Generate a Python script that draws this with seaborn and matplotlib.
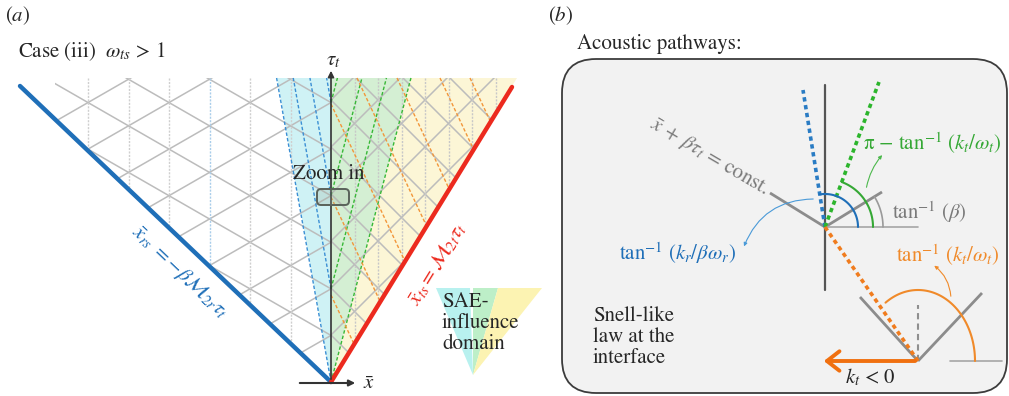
import numpy as np
import pandas as pd
import matplotlib
matplotlib.use("Agg")
import matplotlib.pyplot as plt
import seaborn as sns
from matplotlib.patches import Polygon, FancyBboxPatch, FancyArrowPatch

# ---------------- data: schematic geometry (canvas units) ----------------
apex = (331, 382)                 # origin of the (x, tau) diagram
top_y = 78                        # top edge of the drawn domain
grid_left_x = 55
rs_end = (20, 86)                 # end of reflected-shock line
ts_end = (512, 87)                # end of transmitted-shock line
tau_tip_y = 68
xaxis_span = (297, 358)

left_period, left_slope = 81, 0.575      # lattice in region r  (30 deg)
right_period, right_slope = 47, 1.0      # lattice in region t  (45 deg)
left_vline_k = [1, 2, 3, 4, 5, 6]
right_vline_k = [1, 2, 3, 4, 5, 6, 7]
blue_vline_k = 3

fan_top_x = [277, 331, 411, 517]         # cyan | green | yellow boundaries at top
node_y = [382, 288.8, 195.6, 102.4]      # nodes on tau axis emitting rays
blue_ray_dxdy = 0.179
green_ray_dxdy = 0.263
orange_dxdy = 0.47
orange_axis_y = [295, 197, 104]
orange_top_x = [357, 397, 440, 470]

legend_apex = (473, 375)
legend_top = [436, 470, 473, 498, 542]
legend_top_y = 288

# panel (b)
box_xy = (562, 59)
box_wh = (445, 334)
node1 = (825, 227)
node2 = (918, 361)
upper_vline = (85, 290)
v1_arm_ends = [(770, 193), (882, 192)]
v2_arm_ends = [(860, 297), (982, 293)]
blue_dot_end = (803, 90)
green_dot_end = (879, 82)
arc_r = {"blue": 33, "green": 48, "gray": 58}
orange_arc_ab = (57, 71)
kt_arrow_end = 821

# colours
C_BLUE = "#1f6fb8"
C_RED = "#ec2a1e"
C_GREEN = "#35a835"
C_ORANGE = "#f08a2a"
C_GRAY = "#8c8c8c"
C_GRID = "#bcbcbc"
F_CYAN = "#cff2f5"
F_GREEN = "#d4efd3"
F_YELLOW = "#fcf6d6"

sns.set_theme(style="white")
plt.rcParams["font.family"] = ["STIXGeneral", "Liberation Serif", "DejaVu Serif"]
plt.rcParams["mathtext.fontset"] = "stix"

fig = plt.figure(figsize=(10.09, 3.96), dpi=100)
ax = fig.add_axes([0, 0, 1, 1])
ax.set_xlim(0, 1009)
ax.set_ylim(396, 0)
ax.axis("off")

ax0x, ax0y = apex
k_rs = (ax0x - rs_end[0]) / (ax0y - rs_end[1])
k_ts = (ts_end[0] - ax0x) / (ax0y - ts_end[1])
x_ts_top = ax0x + k_ts * (ax0y - top_y)

# ---------------- fills ----------------
fills = [F_CYAN, F_GREEN, F_YELLOW]
for i, col in enumerate(fills):
    ax.add_patch(Polygon([apex, (fan_top_x[i], top_y), (fan_top_x[i + 1], top_y)],
                         closed=True, fc=col, ec="none", zorder=1))

# clip regions
y_left_clip = ax0y - (ax0x - grid_left_x) / k_rs
left_clip = Polygon([(grid_left_x, top_y), (ax0x, top_y), apex, (grid_left_x, y_left_clip)],
                    closed=True, fc="none", ec="none", transform=ax.transData)
right_clip = Polygon([(ax0x, top_y), (x_ts_top, top_y), apex],
                     closed=True, fc="none", ec="none", transform=ax.transData)
ax.add_patch(left_clip)
ax.add_patch(right_clip)

xs = np.array([-50, 600])
for n in range(-12, 8):
    c = ax0x + left_period * n
    for s in (1, -1):
        ln, = ax.plot(xs, ax0y + s * left_slope * (xs - c), color=C_GRID, lw=1.1, zorder=2)
        ln.set_clip_path(left_clip)
for n in range(-10, 10):
    c = ax0x + right_period * n
    for s in (1, -1):
        ln, = ax.plot(xs, ax0y + s * right_slope * (xs - c), color=C_GRID, lw=1.1, zorder=2)
        ln.set_clip_path(right_clip)

for k in left_vline_k:
    x = ax0x - k * left_period / 2
    col = "#a9cdea" if k == blue_vline_k else "#cfcfcf"
    ln, = ax.plot([x, x], [top_y, ax0y], color=col, lw=1.0, ls=(0, (1.5, 1)), zorder=2)
    ln.set_clip_path(left_clip)
for k in right_vline_k:
    x = ax0x + k * right_period / 2
    ln, = ax.plot([x, x], [top_y, ax0y], color="#c8c8c8", lw=1.0, ls=(0, (1.5, 1)), zorder=2)
    ln.set_clip_path(right_clip)

# ---------------- dashed rays ----------------
dash = (0, (2.5, 1.5))
for y0 in node_y:
    ax.plot([ax0x, ax0x - blue_ray_dxdy * (y0 - top_y)], [y0, top_y],
            color="#3b8fd4", lw=1.0, ls=dash, zorder=3)
    ax.plot([ax0x, ax0x + green_ray_dxdy * (y0 - top_y)], [y0, top_y],
            color="#37b837", lw=1.0, ls=dash, zorder=3)

orange_starts = [(ax0x, y) for y in orange_axis_y] + [(x, top_y) for x in orange_top_x]
for x0, y0 in orange_starts:
    y_end = (ax0x + k_ts * ax0y - x0 + orange_dxdy * y0) / (orange_dxdy + k_ts)
    x_end = x0 + orange_dxdy * (y_end - y0)
    ax.plot([x0, x_end], [y0, y_end], color="#f2963a", lw=1.0, ls=dash, zorder=3)

# ---------------- boundary lines (seaborn) ----------------
df_bound = pd.DataFrame({
    "x": [ax0x, rs_end[0], ax0x, ts_end[0]],
    "y": [ax0y, rs_end[1], ax0y, ts_end[1]],
    "edge": ["rs", "rs", "ts", "ts"],
})
sns.lineplot(data=df_bound, x="x", y="y", hue="edge", units="edge", estimator=None,
             sort=False, palette={"rs": C_BLUE, "ts": C_RED}, linewidth=3.2,
             legend=False, ax=ax, zorder=4)

# axes arrows
ax.add_patch(FancyArrowPatch((ax0x, ax0y), (ax0x, tau_tip_y), arrowstyle="-|>",
                             mutation_scale=9, color="#333333", lw=1.2, zorder=5))
ax.add_patch(FancyArrowPatch((xaxis_span[0], ax0y + 1), (xaxis_span[1], ax0y + 1),
                             arrowstyle="-|>", mutation_scale=9, color="#333333", lw=1.5, zorder=5))

# zoom-in box
ax.add_patch(FancyBboxPatch((317, 189), 32, 16, boxstyle="round,pad=0,rounding_size=4",
                            fc=(0.6, 0.68, 0.6, 0.25), ec="#5a625a", lw=1.4, zorder=6))

# ---------------- texts panel (a) ----------------
FS = 15
ax.text(5, 16, r"($a$)", fontsize=FS, va="center", ha="left")
ax.text(18, 52, r"Case (iii)  $\omega_{ts}$ > 1", fontsize=FS, va="center", ha="left")
ax.text(333, 60, r"$\tau_t$", fontsize=FS, va="center", ha="center")
ax.text(369, 384, r"$\bar{x}$", fontsize=FS, va="center", ha="center")
ax.text(329, 174, "Zoom in", fontsize=FS, va="center", ha="center", zorder=7)
ax.text(180, 272, r"$\bar{x}_{rs}\;=-\beta\mathcal{M}_{2r}\tau_t$", fontsize=FS, color=C_BLUE,
        rotation=-np.degrees(np.arctan(1 / k_rs)), rotation_mode="anchor",
        ha="center", va="center")
ax.text(437, 264, r"$\bar{x}_{ts}=\mathcal{M}_{2t}\tau_t$", fontsize=FS, color=C_RED,
        rotation=np.degrees(np.arctan(1 / k_ts)), rotation_mode="anchor",
        ha="center", va="center")

# SAE legend triangle
leg_fill = ["#b8f1ef", "#bdefc8", "#fcf3b2"]
segs = [(legend_top[0], legend_top[1]), (legend_top[2], legend_top[3]), (legend_top[3], legend_top[4])]
for (xa, xb), col in zip(segs, leg_fill):
    ax.add_patch(Polygon([legend_apex, (xa, legend_top_y), (xb, legend_top_y)],
                         closed=True, fc=col, ec="none", zorder=1))
ax.text(442, 323, "SAE-\ninfluence\ndomain", fontsize=FS, va="center", ha="left",
        linespacing=1.1, zorder=7)

# ---------------- panel (b) ----------------
ax.text(548, 16, r"($b$)", fontsize=FS, va="center", ha="left")
ax.text(577, 44, "Acoustic pathways:", fontsize=FS, va="center", ha="left")
ax.add_patch(FancyBboxPatch(box_xy, box_wh[0], box_wh[1],
                            boxstyle="round,pad=0,rounding_size=34",
                            fc="#f2f2f2", ec="#3c3c3c", lw=1.3, zorder=1))

n1x, n1y = node1
n2x, n2y = node2
ax.plot([n1x, n1x], list(upper_vline), color="#555555", lw=1.6, zorder=3)
for ex, ey in v1_arm_ends:
    ax.plot([n1x, ex], [n1y, ey], color=C_GRAY, lw=2.0, zorder=3, solid_capstyle="butt")
ax.plot([n1x, 918], [n1y, n1y], color="#a6a6a6", lw=1.2, zorder=3)
for ex, ey in v2_arm_ends:
    ax.plot([n2x, ex], [n2y, ey], color=C_GRAY, lw=2.0, zorder=3, solid_capstyle="butt")
ax.plot([950, 1002], [n2y, n2y], color="#a6a6a6", lw=1.2, zorder=3)
ax.plot([n2x, n2x], [n2y, 305], color="#8f8f8f", lw=1.5, ls=(0, (3, 2)), zorder=3)

dot = (0, (1.2, 1.0))
ax.plot([n1x, blue_dot_end[0]], [n1y, blue_dot_end[1]], color="#2a7cc4", lw=2.6, ls=dot, zorder=4)
ax.plot([n1x, green_dot_end[0]], [n1y, green_dot_end[1]], color="#2cb52c", lw=2.6, ls=dot, zorder=4)
ax.plot([n1x, n2x], [n1y, n2y], color="#f07c1e", lw=2.6, ls=dot, zorder=4)


def arc_pts(cx, cy, a, b, t0, t1, n=80):
    t = np.radians(np.linspace(t0, t1, n))
    return cx + a * np.cos(t), cy - b * np.sin(t)


ang_blue = np.degrees(np.arctan2(n1y - blue_dot_end[1], blue_dot_end[0] - n1x))
ang_green = np.degrees(np.arctan2(n1y - green_dot_end[1], green_dot_end[0] - n1x))
ang_gray = np.degrees(np.arctan2(n1y - v1_arm_ends[1][1], v1_arm_ends[1][0] - n1x))
ang_orange = np.degrees(np.arctan2(n2y - n1y, n1x - n2x))

ax.plot(*arc_pts(n1x, n1y, arc_r["blue"], arc_r["blue"], 0, ang_blue), color=C_BLUE, lw=1.5, zorder=5)
ax.plot(*arc_pts(n1x, n1y, arc_r["green"], arc_r["green"], 0, ang_green), color=C_GREEN, lw=1.5, zorder=5)
ax.plot(*arc_pts(n1x, n1y, arc_r["gray"], arc_r["gray"], 0, ang_gray), color="#9a9a9a", lw=1.2, zorder=5)
ax.plot(*arc_pts(n2x, n2y, orange_arc_ab[0], orange_arc_ab[1], 0, ang_orange), color=C_ORANGE, lw=1.5, zorder=5)

ax.add_patch(FancyArrowPatch((816, 199), (743, 249), connectionstyle="arc3,rad=0.35",
                             arrowstyle="-|>", mutation_scale=5, color="#4a9ad8", lw=0.8, zorder=5))
ax.add_patch(FancyArrowPatch((866, 190), (884, 153), connectionstyle="arc3,rad=-0.15",
                             arrowstyle="-|>", mutation_scale=5, color="#4cb84c", lw=0.8, zorder=5))
ax.add_patch(FancyArrowPatch((951, 299), (932, 264), connectionstyle="arc3,rad=0.25",
                             arrowstyle="-|>", mutation_scale=5, color=C_ORANGE, lw=0.8, zorder=5))

ax.add_patch(FancyArrowPatch((n2x, n2y), (kt_arrow_end, n2y),
                             arrowstyle="->,head_length=0.45,head_width=0.35",
                             mutation_scale=20, color="#f07010", lw=2.8, zorder=5))

ax.text(710, 157, r"$\bar{x}\,+\,\beta\tau_t\,=\,$const.", fontsize=FS, color="#7a7a7a",
        rotation=-30.4, rotation_mode="anchor", ha="center", va="center")
ax.text(932, 143, r"π − $\tan^{-1}\,(k_t/\omega_t)$", fontsize=FS, color=C_GREEN,
        ha="center", va="center")
ax.text(929, 212, r"$\tan^{-1}\,(\beta)$", fontsize=FS, color="#7a7a7a", ha="center", va="center")
ax.text(678, 253, r"$\tan^{-1}\,(k_r/\beta\omega_r)$", fontsize=FS, color=C_BLUE,
        ha="center", va="center")
ax.text(948, 255, r"$\tan^{-1}\,(k_t/\omega_t)$", fontsize=FS, color=C_ORANGE,
        ha="center", va="center")
ax.text(870, 377, r"$k_t$ < 0", fontsize=FS, ha="center", va="center")
ax.text(593, 337, "Snell-like\nlaw at the\ninterface", fontsize=FS, ha="left", va="center",
        linespacing=1.1)

ax.set_xlim(0, 1009)
ax.set_ylim(396, 0)
ax.axis("off")
fig.savefig("out.png", dpi=100)
